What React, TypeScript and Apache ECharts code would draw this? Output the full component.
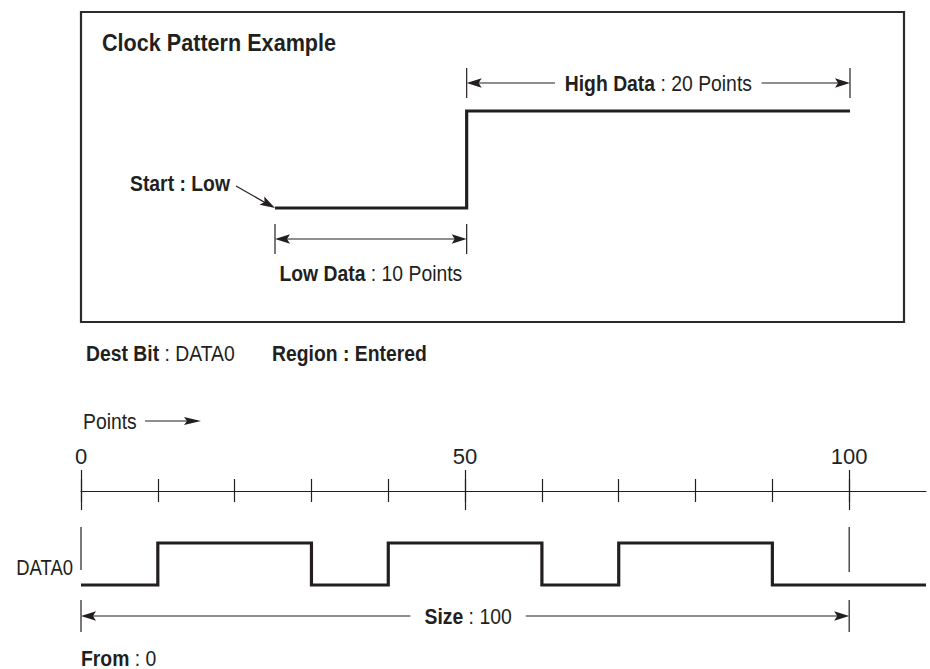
import React, { useEffect, useRef } from "react";
import * as echarts from "echarts";

const FONT = "'Liberation Sans', Arial, Helvetica, sans-serif";
const INK = "#231f20";
const SX = 0.88; // condensed look

// Top panel: clock pattern example, [point, level]; level holds until the next point
const exampleStep: number[][] = [[0, 0], [10, 1], [30, 1]];
const exampleLowPoints = 10;
const exampleHighPoints = 20;

// Bottom panel: DATA0 waveform, [point, level]
const data0Step: number[][] = [[0, 0], [10, 1], [30, 0], [40, 1], [60, 0], [70, 1], [90, 0], [110, 0]];
const minorTicks = [0, 10, 20, 30, 40, 50, 60, 70, 80, 90, 100];
const majorTicks = [0, 50, 100];
const sizeFrom = 0;
const sizeTo = 100;

type Pt = number[];

function arrowHead(tip: Pt, from: Pt, len = 15, half = 4.8) {
  const dx = tip[0] - from[0];
  const dy = tip[1] - from[1];
  const d = Math.hypot(dx, dy) || 1;
  const ux = dx / d, uy = dy / d;
  const px = -uy, py = ux;
  const bx = tip[0] - ux * len, by = tip[1] - uy * len;
  const nx = tip[0] - ux * (len - 3), ny = tip[1] - uy * (len - 3);
  return {
    type: "polygon",
    shape: { points: [[tip[0], tip[1]], [bx + px * half, by + py * half], [nx, ny], [bx - px * half, by - py * half]] },
    style: { fill: INK },
    z: 20,
  };
}

function line(a: Pt, b: Pt, w = 1.2) {
  return {
    type: "line",
    shape: { x1: a[0], y1: a[1], x2: b[0], y2: b[1] },
    style: { stroke: INK, lineWidth: w },
    z: 10,
  };
}

function text(x: number, y: number, t: string, size: number, opts: any = {}) {
  return {
    type: "text",
    x,
    y,
    scaleX: opts.sx ?? SX,
    z: 30,
    style: {
      text: t,
      fontFamily: FONT,
      fontSize: size,
      lineHeight: opts.lh,
      fill: INK,
      align: opts.align || "left",
      verticalAlign: "middle",
      fontWeight: opts.bold ? "bold" : "normal",
      backgroundColor: opts.bg,
      padding: opts.padding,
      rich: {
        b: { fontFamily: FONT, fontSize: size, lineHeight: opts.lh, fontWeight: "bold", fill: INK },
        r: { fontFamily: FONT, fontSize: size, lineHeight: opts.lh, fontWeight: "normal", fill: INK },
      },
    },
  };
}

function dimension(x1: number, x2: number, y: number, tickUp: number, tickDown: number) {
  return [
    line([x1, y - tickUp], [x1, y + tickDown], 1.2),
    line([x2, y - tickUp], [x2, y + tickDown], 1.2),
    line([x1 + 3, y], [x2 - 3, y], 1.2),
    arrowHead([x1, y], [x2, y]),
    arrowHead([x2, y], [x1, y]),
  ];
}

export default function App() {
  const ref = useRef<HTMLDivElement>(null);

  useEffect(() => {
    if (!ref.current) return;
    const chart = echarts.init(ref.current, undefined, { renderer: "svg" });

    const tickStyle = { color: INK, width: 1.2 };

    chart.setOption({
      animation: false,
      backgroundColor: "#ffffff",
      grid: [
        { left: 275, top: 111, width: 575, height: 97 },
        { left: 81, top: 543, width: 845, height: 42 },
        { left: 81, top: 470, width: 845, height: 40 },
        { left: 81, top: 479, width: 845, height: 23 },
      ],
      xAxis: [
        { type: "value", gridIndex: 0, min: 0, max: exampleLowPoints + exampleHighPoints, show: false },
        {
          type: "value",
          gridIndex: 1,
          min: 0,
          max: 110,
          position: "top",
          offset: 52,
          splitLine: { show: false },
          axisLine: { show: true, onZero: false, lineStyle: tickStyle },
          axisTick: { show: false },
          axisLabel: {
            show: true,
            customValues: majorTicks,
            margin: 24,
            fontFamily: FONT,
            fontSize: 22,
            color: INK,
          },
        },
        {
          type: "value",
          gridIndex: 2,
          min: 0,
          max: 110,
          position: "bottom",
          splitLine: { show: false },
          axisLine: { show: false, onZero: false },
          axisTick: { show: true, inside: true, length: 40, customValues: majorTicks, lineStyle: tickStyle },
          axisLabel: { show: false },
        },
        {
          type: "value",
          gridIndex: 3,
          min: 0,
          max: 110,
          position: "bottom",
          splitLine: { show: false },
          axisLine: { show: false, onZero: false },
          axisTick: { show: true, inside: true, length: 23, customValues: minorTicks, lineStyle: tickStyle },
          axisLabel: { show: false },
        },
      ],
      yAxis: [
        { type: "value", gridIndex: 0, min: 0, max: 1, show: false },
        { type: "value", gridIndex: 1, min: 0, max: 1, show: false },
        { type: "value", gridIndex: 2, min: 0, max: 1, show: false },
        { type: "value", gridIndex: 3, min: 0, max: 1, show: false },
      ],
      series: [
        {
          type: "line",
          xAxisIndex: 0,
          yAxisIndex: 0,
          step: "end",
          data: exampleStep,
          symbol: "none",
          clip: false,
          lineStyle: { color: INK, width: 3.2, join: "miter", cap: "butt" },
        },
        {
          type: "line",
          xAxisIndex: 1,
          yAxisIndex: 1,
          step: "end",
          data: data0Step,
          symbol: "none",
          clip: false,
          lineStyle: { color: INK, width: 3.2, join: "miter", cap: "butt" },
        },
      ],
    });

    const top = (p: Pt) => chart.convertToPixel({ xAxisIndex: 0, yAxisIndex: 0 }, p) as number[];
    const bot = (p: Pt) => chart.convertToPixel({ xAxisIndex: 1, yAxisIndex: 1 }, p) as number[];

    const startPt = top([0, 0]);
    const stepPt = top([exampleLowPoints, 1]);
    const endPt = top([exampleLowPoints + exampleHighPoints, 1]);
    const lowY = startPt[1];
    const highY = stepPt[1];

    const b0 = bot([sizeFrom, 0]);
    const b100 = bot([sizeTo, 0]);
    const bHigh = bot([sizeFrom, 1])[1];
    const bLow = b0[1];

    const lowDimY = lowY + 31;
    const highDimY = highY - 28;
    const sizeY = bLow + 31;

    const elements: any[] = [
      {
        type: "rect",
        shape: { x: 81, y: 12, width: 823, height: 310 },
        style: { fill: "none", stroke: "#2b2b2b", lineWidth: 2.2 },
        z: 5,
      },
      text(102, 43, "Clock Pattern Example", 24, { bold: true, sx: 0.9 }),
      text(230, 183, "Start : Low", 22, { bold: true, align: "right" }),
      line([236, 186], [startPt[0] - 4, lowY - 2], 1.2),
      arrowHead([startPt[0], lowY], [236, 186]),
      ...dimension(startPt[0], stepPt[0], lowDimY, 15, 15),
      text((startPt[0] + stepPt[0]) / 2, lowDimY + 34, "{b|Low Data}{r| : " + exampleLowPoints + " Points}", 22, { align: "center" }),
      ...dimension(stepPt[0], endPt[0], highDimY, 15, 15),
      text((stepPt[0] + endPt[0]) / 2, highDimY, "{b|High Data}{r| : " + exampleHighPoints + " Points}", 22, {
        align: "center",
        bg: "#ffffff",
        padding: [0, 11],
      }),
      text(86, 353, "{b|Dest Bit}{r| : DATA0}", 22),
      text(272, 353, "Region : Entered", 22, { bold: true }),
      text(83, 421, "Points", 22),
      line([145, 421], [196, 421], 1.2),
      arrowHead([201, 421], [145, 421], 17, 4),
      // range-end markers
      line([b0[0], bHigh - 16], [b0[0], bLow - 15], 1.2),
      line([b100[0], bHigh - 16], [b100[0], bLow - 13], 1.2),
      text(b0[0] - 8, (bHigh + bLow) / 2 + 3, "DATA0", 22, { align: "right", sx: 0.84 }),
      ...dimension(b0[0], b100[0], sizeY, 16, 16),
      text((b0[0] + b100[0]) / 2 + 3, sizeY, "{b|Size}{r| : " + (sizeTo - sizeFrom) + "}", 22, {
        align: "center",
        bg: "#ffffff",
        padding: [0, 16],
      }),
      text(b0[0], bLow + 73, "{b|From}{r| : " + sizeFrom + "}", 22, { lh: 18 }),
    ];

    chart.setOption({ graphic: { elements } });

    return () => chart.dispose();
  }, []);

  return <div ref={ref} style={{ position: "fixed", left: 0, top: 0, width: 930, height: 669 }} />;
}
